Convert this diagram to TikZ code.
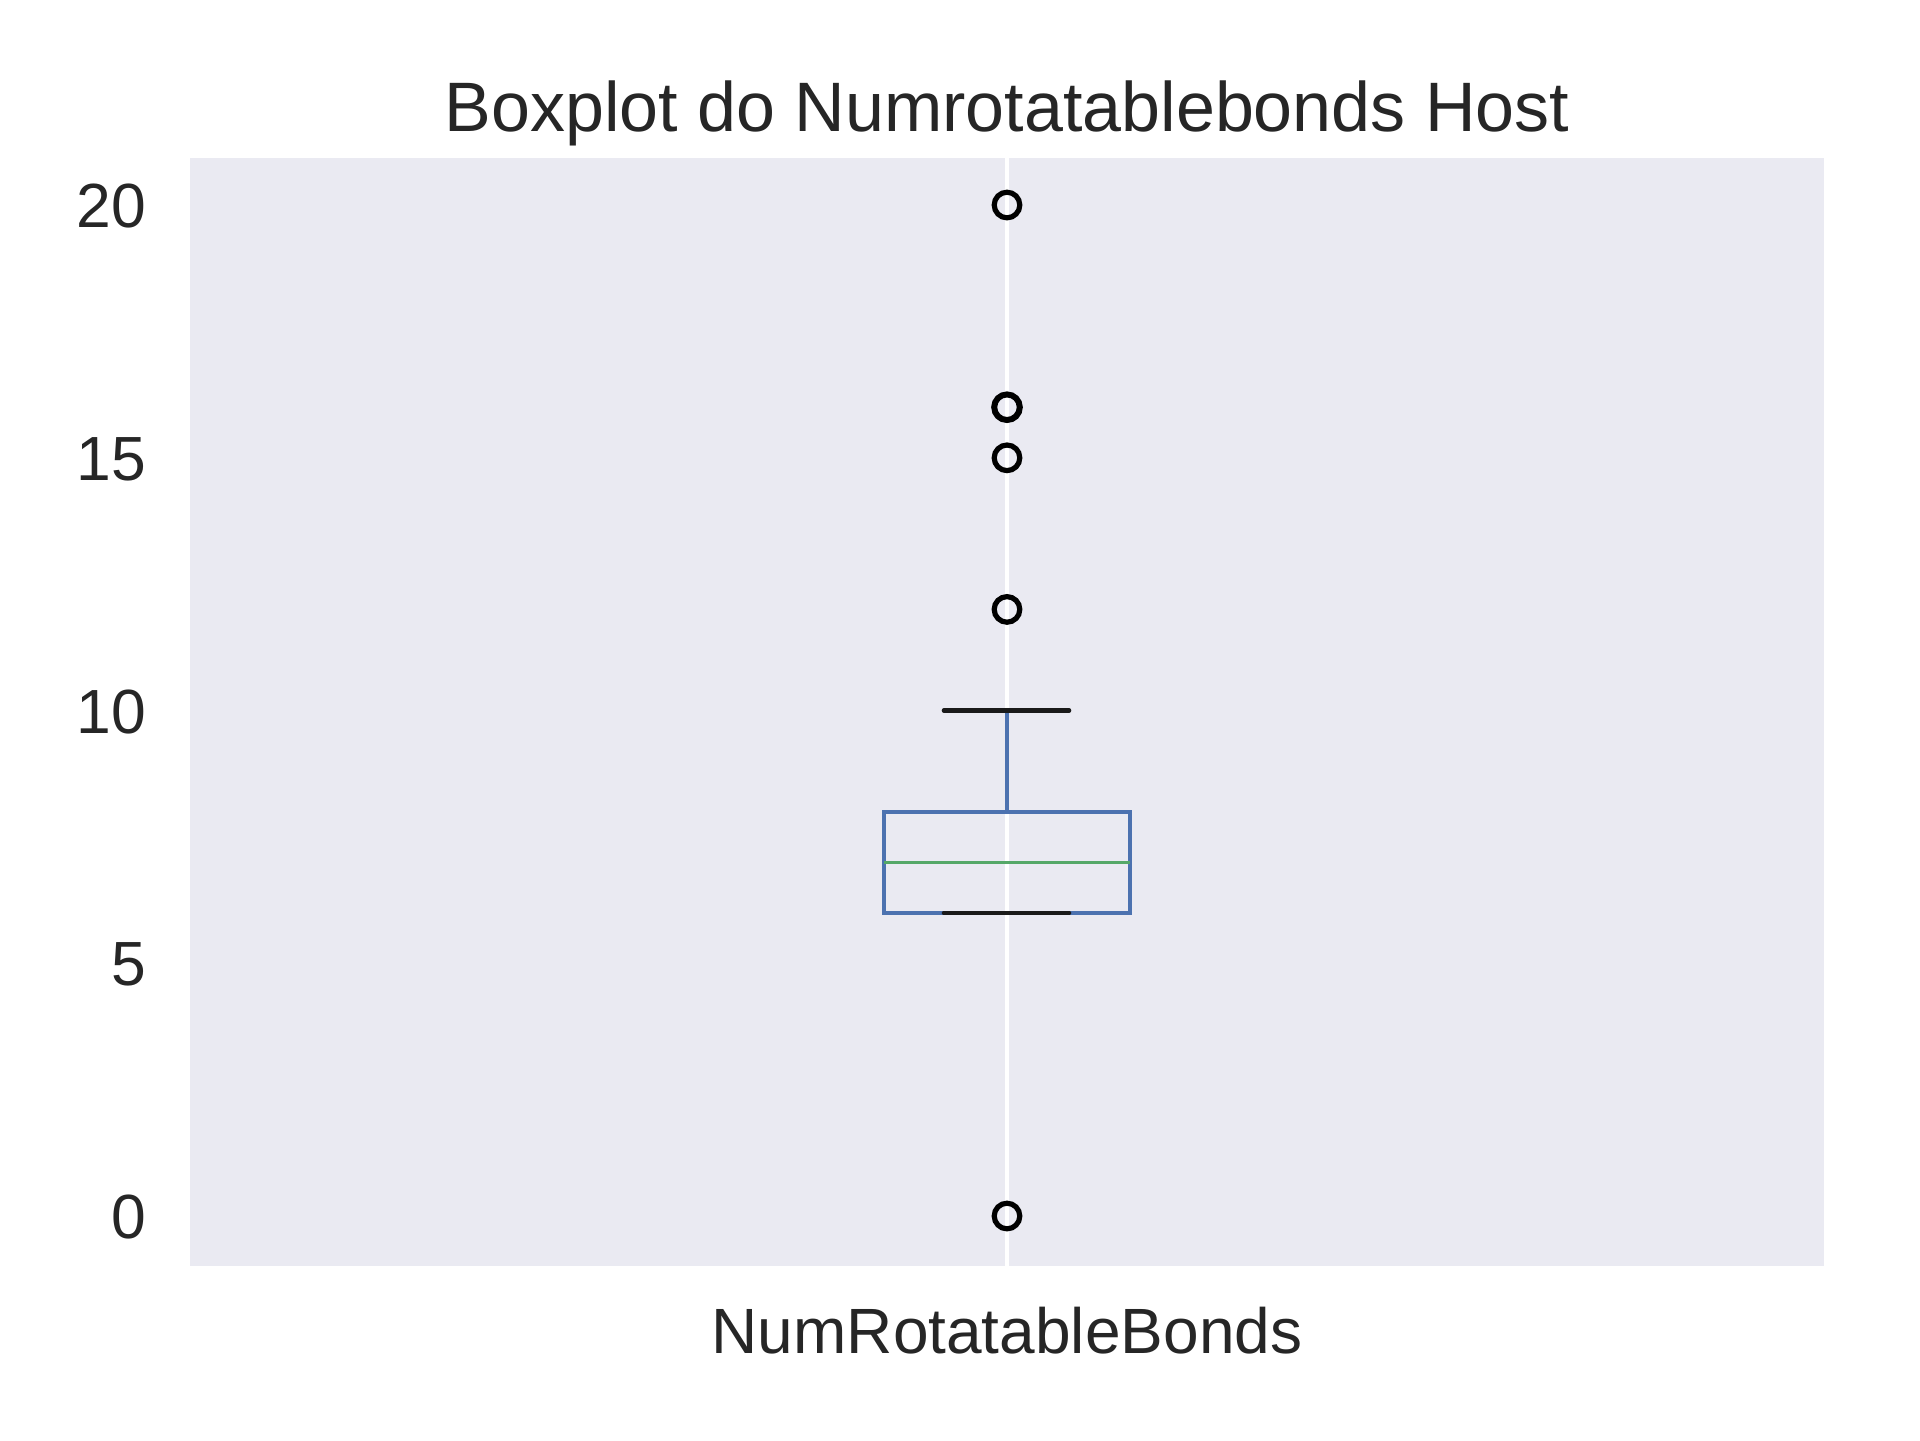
\documentclass[tikz,border=0pt]{standalone}
\usepackage{fontspec}
\setmainfont{Liberation Sans}
\definecolor{axbg}{HTML}{EAEAF2}
\definecolor{boxblue}{HTML}{4C72B0}
\definecolor{medgreen}{HTML}{55A868}
\definecolor{txt}{HTML}{262626}
\definecolor{capk}{HTML}{1A1A1A}
\tikzset{
  lbl/.style={inner sep=0pt, text=txt},
  ticklbl/.style={lbl, anchor=base east, font=\fontsize{15.6pt}{18pt}\selectfont},
  titlelbl/.style={lbl, anchor=base, font=\fontsize{17.5pt}{21pt}\selectfont},
  xlbl/.style={lbl, anchor=base, font=\fontsize{16pt}{19pt}\selectfont},
  boxline/.style={draw=boxblue, line width=0.9pt},
  capline/.style={draw=capk, line width=1.15pt, line cap=round},
  medline/.style={draw=medgreen, line width=0.9pt},
  flier/.style={circle, draw=black, line width=1.3pt, minimum size=6.4pt, inner sep=0pt},
}
\begin{document}
\begin{tikzpicture}[x=0.25pt, y=-0.25pt]
\useasboundingbox (0,0) rectangle (1920,1440);
% axes background
\fill[axbg] (190,158) rectangle (1824,1266);
% grid line
\coordinate (gtop) at (1007,158);
\coordinate (gbot) at (1007,1266);
\draw[white, line width=1pt] (gtop) -- (gbot);
% box
\coordinate (q1l) at (884,913);
\coordinate (q3r) at (1130,812);
\draw[boxline] (q1l) rectangle (q3r);
% median
\coordinate (medl) at (884,862.5);
\coordinate (medr) at (1130,862.5);
\draw[medline] (medl) -- (medr);
% upper whisker
\coordinate (wtop) at (1007,710.5);
\coordinate (qtop) at (1007,812);
\draw[boxline] (qtop) -- (wtop);
% caps
\coordinate (capul) at (944,710.5);
\coordinate (capur) at (1069,710.5);
\draw[capline] (capul) -- (capur);
\coordinate (capll) at (944,913);
\coordinate (caplr) at (1069,913);
\draw[capline] (capll) -- (caplr);
% fliers
\node[flier] (f0) at (1007,1216) {};
\node[flier] (f12) at (1007,609.4) {};
\node[flier] (f15) at (1007,457.8) {};
\node[flier, line width=1.5pt] (f16) at (1007,407.2) {};
\node[flier] (f20) at (1007,205) {};
% tick labels
\node[ticklbl] (t0) at (147,1238.4) {0};
\node[ticklbl] (t5) at (147,985.7) {5};
\node[ticklbl] (t10) at (147,733) {10};
\node[ticklbl] (t15) at (147,480.2) {15};
\node[ticklbl] (t20) at (147,227.4) {20};
% title and xlabel
\node[titlelbl] (title) at (1007,131) {Boxplot do Numrotatablebonds Host};
\node[xlbl] (xlab) at (1007,1353) {NumRotatableBonds};
\end{tikzpicture}
\end{document}
